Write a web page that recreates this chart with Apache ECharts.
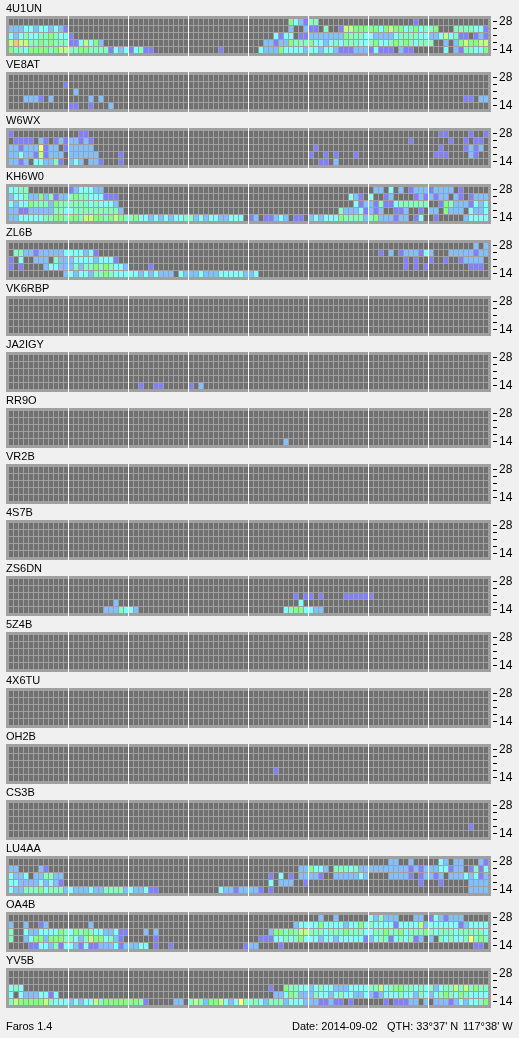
<!DOCTYPE html>
<html>
<head>
<meta charset="utf-8">
<style>html,body{margin:0;padding:0;background:#f0f0f0}#c{width:519px;height:1038px}</style>
<script src="https://cdn.jsdelivr.net/npm/echarts@6/dist/echarts.min.js"></script>
</head>
<body>
<div id="c"></div>
<script>
// Levels: 0 none, 1 purple, 2 blue, 3 cyan, 4 mint, 5 green, 6 lime, 7 yellow, 8 orange
// Rows top→bottom: 28,24,21,18,14. "-" is a 3-hour block (12 slots) with no reception.
const BANDS = ['14','','','','28'];
const LEVEL_COLORS = ['#707070','#8080ff','#80c0ff','#80ffff','#80ffc0','#80ff80','#c0ff80','#ffff80','#ffc080'];
const BLOCK_STARTS = [12,24,36,48,60,72,84];

const S_4U1UN = [
 '- - - - 000000005321 440000000000 000000000100 -',
 '222332332321 - - - 000000002002 110400166555 553565534534 450004444331',
 '323433445433 100000000000 - - 000003133011 222222254443 322223444433 223634110121',
 '686644545444 113635200000 - - 000221225444 533234344433 453345454344 400202565566',
 '544355554566 445544441323 134110000000 000000100000 003222533332 332332111222 131110211000 000302144335'];
const S_VE8AT = [
 '- - - - - - - -',
 '000000000001 - - - - - - -',
 '- 020000000000 - - - - - -',
 '000222102000 000020200000 - - - - - 000000011022',
 '- 110010002000 - - - - - -'];
const S_W6WX = [
 '100000000000 001100000000 - - - - - 001100001001',
 '011110210121 221210000000 - - - - 000000001000 000010010110',
 '221222712201 222220000000 - - - 010000000000 - 001000012120',
 '223221612220 222222000010 - - - 100101000100 - 011100002100',
 '221203322410 232022100010 - - - 001102000000 - -'];
const S_KH6W0 = [
 '334400000000 123332200000 - - - - 022030201222 122220100000',
 '233422524122 454433311100 - - - 000000003210 300120000121 212202101222',
 '323354442544 444434333200 - - - 000000000312 214113444444 001542221323',
 '221122222443 344444444420 - - - 000000422231 212001120010 220522203223',
 '223333344554 554665545654 453323232334 423233223330 120112320110 232333544442 452221220130 010000023333'];
const S_ZL6B = [
 '- - - - - - - 000000000202',
 '044221222223 333231000000 - - - - 001020122213 200022222122',
 '103002220422 233332333100 - - - - 000000010100 100100122220',
 '101000023322 242445454332 000010000000 - - - 000000010101 000000001110',
 '000000000002 323324454333 332323222032 223222333332 230000000000 - - -'];
const S_VK6RBP = ['- - - - - - - -','- - - - - - - -','- - - - - - - -','- - - - - - - -','- - - - - - - -'];
const S_JA2IGY = ['- - - - - - - -','- - - - - - - -','- - - - - - - -','- - - - - - - -',
 '- - 001001100000 102000000000 - - - -'];
const S_RR9O = ['- - - - - - - -','- - - - - - - -','- - - - - - - -','- - - - - - - -',
 '- - - - 000000020000 - - -'];
const S_VR2B = ['- - - - - - - -','- - - - - - - -','- - - - - - - -','- - - - - - - -','- - - - - - - -'];
const S_4S7B = ['- - - - - - - -','- - - - - - - -','- - - - - - - -','- - - - - - - -','- - - - - - - -'];
const S_ZS6DN = [
 '- - - - - - - -',
 '- - - - - - - -',
 '- - - - 000000000101 101000011111 100000000000 -',
 '- 000000000200 - - 000000000030 - - -',
 '- 000000022243 320000000000 - 000000034553 322000000000 - -'];
const S_5Z4B = ['- - - - - - - -','- - - - - - - -','- - - - - - - -','- - - - - - - -','- - - - - - - -'];
const S_4X6TU = ['- - - - - - - -','- - - - - - - -','- - - - - - - -','- - - - - - - -','- - - - - - - -'];
const S_OH2B = ['- - - - - - - -','- - - - - - - -','- - - - - - - -',
 '- - - - 000001000000 - - -','- - - - - - - -'];
const S_CS3B = ['- - - - - - - -','- - - - - - - -','- - - - - - - -',
 '- - - - - - - 000000001000','- - - - - - - -'];
const S_LU4AA = [
 '- - - - - - 000022002000 003202200021',
 '220000210000 - - - 000000000022 533204443422 222222221212 223312201413',
 '322302244220 - - - 000010301022 221002222232 000022221012 212022232312',
 '332222323210 - - - 000030222001 - 000000000010 001000002222',
 '322444534442 322232244442 322311000000 000000322122 221010000000 - - 000000002222'];
const S_OA4B = [
 '- - - - - 002002000000 324222000220 132122200000',
 '200200120000 000020000000 - - 000000000233 335333323353 433331333362 333333123333',
 '400322333354 354543322311 000202000000 - 000025545466 444344454443 344544534445 434443444443',
 '400235525554 432465534210 000001000000 - 001113343453 332332333331 234413434120 204343347454',
 '000011332413 321311222312 223301001000 000000000001 220000100000 - - 000000000110'];
const S_YV5B = [
 '- - - - - - - -',
 '- - - - - - - -',
 '343000000000 - - - 000010054433 234332223333 446345544343 423446464544',
 '303222331300 - - - 000002235422 243323433223 212333433243 234543543333',
 '465555564333 232336455555 554100000220 464255632374 443244423332 221121101000 000101112202 022212323345'];

const STATIONS = [
 ['4U1UN',S_4U1UN],['VE8AT',S_VE8AT],['W6WX',S_W6WX],['KH6W0',S_KH6W0],['ZL6B',S_ZL6B],['VK6RBP',S_VK6RBP],
 ['JA2IGY',S_JA2IGY],['RR9O',S_RR9O],['VR2B',S_VR2B],['4S7B',S_4S7B],['ZS6DN',S_ZS6DN],['5Z4B',S_5Z4B],
 ['4X6TU',S_4X6TU],['OH2B',S_OH2B],['CS3B',S_CS3B],['LU4AA',S_LU4AA],['OA4B',S_OA4B],['YV5B',S_YV5B]];
const FOOTER = [['Faros 1.4',6],['Date: 2014-09-02',292],["QTH: 33°37' N",387],["117°38' W",463]];

const FONT = '"Liberation Sans", Arial, sans-serif';
const SLOTS = Array.from({length:96},(_,i)=>i);
const parseRow = r => r.split(' ').map(s=>s==='-'?'0'.repeat(12):s).join('');

const grids=[],xAxes=[],yAxes=[],series=[],titles=[],graphics=[];
STATIONS.forEach(([name,rows],k)=>{
  const top = 16+56*k;
  graphics.push({type:'rect',z:-1,silent:true,shape:{x:6,y:top,width:485,height:40},style:{fill:'#a0a0a0'}});
  titles.push({text:name,left:6,top:top-13,padding:0,textStyle:{fontFamily:FONT,fontSize:11,fontWeight:'normal',color:'#000'}});
  grids.push({left:9,top:top+2,width:480,height:35,show:false});
  xAxes.push({type:'category',gridIndex:k,data:SLOTS,show:false});
  yAxes.push({type:'category',gridIndex:k,data:BANDS,position:'right',offset:4,
    axisLine:{show:false},
    axisTick:{show:true,alignWithLabel:true,interval:0,length:4,lineStyle:{color:'#000',width:1}},
    axisLabel:{interval:0,margin:6,fontFamily:FONT,fontSize:12,color:'#000'},splitLine:{show:false}});
  const data=[];
  rows.forEach((row,r)=>{
    parseRow(row).split('').forEach((v,i)=>data.push([i,4-r,+v]));
  });
  series.push({type:'custom',xAxisIndex:k,yAxisIndex:k,silent:true,animation:false,clip:false,z:2,
    encode:{x:0,y:1},data,
    renderItem:(p,api)=>{
      const c=api.coord([api.value(0),api.value(1)]), s=api.size([1,1]);
      return {type:'rect',shape:{x:Math.round(c[0]-s[0]/2),y:Math.round(c[1]-s[1]/2)+1,width:s[0]-1,height:s[1]-1},
        style:{fill:LEVEL_COLORS[api.value(2)]}};
    }});
  series.push({type:'custom',xAxisIndex:k,yAxisIndex:k,silent:true,animation:false,clip:false,z:3,
    encode:{x:0},data:BLOCK_STARTS.map(v=>[v]),
    renderItem:(p,api)=>{
      const c=api.coord([api.value(0),0]), s=api.size([1,1]);
      return {type:'rect',shape:{x:Math.round(c[0]-s[0]/2)-1,y:top,width:1,height:40},style:{fill:'#ffffff'}};
    }});
});
FOOTER.forEach(([t,x])=>titles.push({text:t,left:x,top:1021,padding:0,textStyle:{fontFamily:FONT,fontSize:11,fontWeight:'normal',color:'#000'}}));

const chart=echarts.init(document.getElementById('c'),null,{renderer:'canvas',width:519,height:1038});
chart.setOption({animation:false,backgroundColor:'#f0f0f0',title:titles,grid:grids,xAxis:xAxes,yAxis:yAxes,series,graphic:graphics,tooltip:{show:false}});
</script>
</body>
</html>
